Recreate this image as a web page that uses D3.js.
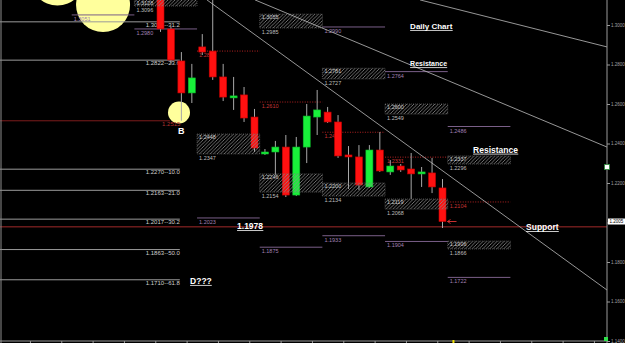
<!DOCTYPE html>
<html><head><meta charset="utf-8">
<script src="https://cdn.jsdelivr.net/npm/d3@7"></script>
<style>html,body{margin:0;padding:0;background:#000;overflow:hidden}svg{display:block}</style>
</head><body><svg id="c" width="625" height="343"></svg>
<script>
// ---------- DATA ----------
const candleIndex = d3.range(28);
const opens  = [1.3150,1.2980,1.2818,1.2656,1.2889,1.2868,1.2737,1.2635,1.2646,1.2534,1.2347,1.2357,1.2382,1.2139,1.2382,1.2534,1.2559,1.2509,1.2342,1.2332,1.2180,1.2367,1.2256,1.2286,1.2271,1.2251,1.2251,1.2175];
const highs  = [1.3200,1.2990,1.2863,1.2803,1.2954,1.3150,1.2803,1.2737,1.2686,1.2575,1.2372,1.2413,1.2443,1.2433,1.2600,1.2671,1.2585,1.2544,1.2387,1.2392,1.2392,1.2458,1.2316,1.2296,1.2352,1.2281,1.2327,1.2220];
const lows   = [1.2965,1.2803,1.2515,1.2605,1.2848,1.2722,1.2615,1.2570,1.2509,1.2357,1.2342,1.2241,1.2129,1.2134,1.2301,1.2443,1.2504,1.2327,1.2170,1.2165,1.2175,1.2256,1.2241,1.2256,1.2119,1.2180,1.2149,1.1972];
const closes = [1.2980,1.2823,1.2656,1.2732,1.2863,1.2737,1.2635,1.2641,1.2529,1.2377,1.2357,1.2382,1.2139,1.2382,1.2539,1.2570,1.2509,1.2337,1.2332,1.2190,1.2367,1.2261,1.2286,1.2266,1.2246,1.2256,1.2180,1.2005];

// weekly periods (start index, 6 candles each)
const weekStarts = [-8.5,-2.5,3.5,9.5,15.5,21.5,27.5];
const weekLen = 6;

// hatched zones
const zoneWeek   = [1,2,3,3,4,4,5,5,6,6];
const zoneTop    = [1.3128,1.2448,1.3055,1.2246,1.2781,1.2200,1.2600,1.2119,1.2337,1.1906];
const zoneBottom = [1.3096,1.2347,1.2985,1.2154,1.2727,1.2134,1.2549,1.2068,1.2296,1.1866];

// purple weekly levels
const levelWeek  = [0,1,2,3,4,4,5,5,6,6];
const levelPrice = [1.3051,1.2980,1.2023,1.1875,1.2990,1.1933,1.2764,1.1904,1.2486,1.1722];

// red dotted pivots
const pivotWeek  = [2,3,4,5,6];
const pivotPrice = [1.2868,1.2610,1.2457,1.2331,1.2104];

// fibonacci levels on the left
const fibPrice = [1.3016,1.2822,1.2270,1.2163,1.2017,1.1863,1.1710];
const fibPct   = ["31.2","23.6","10.0","21.0","30.2","50.0","61.8"];
const fibEnd = 1.85;
const swingLow = 1.2515, swingLowEnd = 0.9;
const supportPrice = 1.1978;

// trend lines [i,p]
const trendFrom = [[4.45,1.3127],[9.05,1.3127],[24.85,1.3127]];
const trendTo   = [[42.75,1.1658],[42.75,1.2382],[42.75,1.2889]];

// highlight circles
const circleIdx   = [-9.87,-5.5,1.77];
const circlePrice = [1.3235,1.3101,1.2557];
const circleR     = [27,27,11];

// annotations
const noteText  = ["Daily Chart","Resistance","Resistance","Support","1.1978","B","D???"];
const noteIdx   = [23.9,23.9,29.93,35.0,7.33,1.68,2.83];
const notePrice = [1.2980,1.2792,1.2354,1.1962,1.1967,1.2448,1.1689];
const noteSize  = [8,7,8.5,8.5,8.5,9,8.5];

const yTicks = d3.range(1.14,1.3001,0.02);

// ---------- SCALES ----------
const W=625,H=343,axisX=607,axisY=341;
const x = d3.scaleLinear().domain([0,27]).range([160.5,442.5]);
const y = d3.scaleLinear().domain([1.14,1.30]).range([341,25]);
const fmt = d3.format('.4f');
const FONT = "Liberation Sans, Arial, sans-serif";

const svg = d3.select('#c').style('background','#000');
svg.append('rect').attr('width',W).attr('height',H).attr('fill','#000');
const defs = svg.append('defs');
const pat = defs.append('pattern').attr('id','hatch').attr('patternUnits','userSpaceOnUse').attr('width',3.5).attr('height',3.5);
pat.append('path').attr('d','M-1,1 l2,-2 M0,3.5 l3.5,-3.5 M2.5,4.5 l2,-2').attr('stroke','#8a8a8a').attr('stroke-width',0.8);
defs.append('clipPath').attr('id','clip').append('rect').attr('x',0).attr('y',0).attr('width',axisX).attr('height',axisY);

const g = svg.append('g').attr('clip-path','url(#clip)');

// circles
g.selectAll('circle.hl').data(circleIdx).join('circle')
  .attr('cx',(d)=>x(d)).attr('cy',(d,i)=>y(circlePrice[i])).attr('r',(d,i)=>circleR[i])
  .attr('fill','#ffff9c');

// fib lines
fibPrice.forEach((p,i)=>{
  g.append('line').attr('x1',0).attr('x2',x(fibEnd)).attr('y1',y(p)).attr('y2',y(p))
    .attr('stroke','#9a9a9a').attr('stroke-width',1);
  g.append('text').attr('x',x(fibEnd)).attr('y',y(p)+5).attr('text-anchor','end')
    .attr('font-family',FONT).attr('font-size',6).attr('fill','#cfcfcf').text(fmt(p)+'--'+fibPct[i]);
});
// swing low red line
g.append('line').attr('x1',0).attr('x2',x(swingLowEnd)).attr('y1',y(swingLow)).attr('y2',y(swingLow))
  .attr('stroke','#7e1c1c').attr('stroke-width',1);
g.append('text').attr('x',x(0.15)).attr('y',y(swingLow)+5).attr('font-family',FONT).attr('font-size',6)
  .attr('fill','#b03030').text(fmt(swingLow));

// support line
g.append('line').attr('x1',0).attr('x2',axisX).attr('y1',y(supportPrice)).attr('y2',y(supportPrice))
  .attr('stroke','#a32a2a').attr('stroke-width',1);

// purple levels
levelPrice.forEach((p,i)=>{
  const ws = weekStarts[levelWeek[i]];
  g.append('line').attr('x1',x(ws)).attr('x2',x(ws+weekLen)).attr('y1',y(p)).attr('y2',y(p))
    .attr('stroke','#7a5f88').attr('stroke-width',1);
  g.append('text').attr('x',x(ws)+2).attr('y',y(p)+6).attr('font-family',FONT).attr('font-size',5.5)
    .attr('fill','#a080b4').text(fmt(p));
});
// red dotted pivots
pivotPrice.forEach((p,i)=>{
  const ws = weekStarts[pivotWeek[i]];
  g.append('line').attr('x1',x(ws)).attr('x2',x(ws+weekLen)).attr('y1',y(p)).attr('y2',y(p))
    .attr('stroke','#b42222').attr('stroke-width',1).attr('stroke-dasharray','1,1.5');
  g.append('text').attr('x',x(ws)+2).attr('y',y(p)+6).attr('font-family',FONT).attr('font-size',5.5)
    .attr('fill','#c83434').text(fmt(p));
});

// candles
candleIndex.forEach(i=>{
  const up = closes[i] >= opens[i];
  const cx = x(i);
  g.append('line').attr('x1',cx).attr('x2',cx).attr('y1',y(highs[i])).attr('y2',y(lows[i]))
    .attr('stroke','#a8a8a8').attr('stroke-width',1);
  const yt = y(Math.max(opens[i],closes[i])), yb = y(Math.min(opens[i],closes[i]));
  g.append('rect').attr('x',cx-3.5).attr('width',7).attr('y',yt).attr('height',Math.max(2,yb-yt))
    .attr('fill',up?'#18f03a':'#ff1010').attr('stroke',up?'#0cb82a':'#c40000').attr('stroke-width',0.6);
});

// hatched zones
zoneTop.forEach((t,i)=>{
  const ws = weekStarts[zoneWeek[i]];
  const b = zoneBottom[i];
  g.append('rect').attr('x',x(ws)).attr('width',x(ws+weekLen)-x(ws)).attr('y',y(t)).attr('height',y(b)-y(t))
    .attr('fill','url(#hatch)').attr('stroke','#777').attr('stroke-width',0.6).attr('stroke-dasharray','1,1');
  g.append('text').attr('x',x(ws)+2).attr('y',Math.max(y(t)+5,5)).attr('font-family',FONT).attr('font-size',5.5)
    .attr('fill','#c8c8c8').text(fmt(t));
  g.append('text').attr('x',x(ws)+2).attr('y',y(b)+6).attr('font-family',FONT).attr('font-size',5.5)
    .attr('fill','#bdbdbd').text(fmt(b));
});

// trend lines
trendFrom.forEach((f,i)=>{
  const t = trendTo[i];
  g.append('line').attr('x1',x(f[0])).attr('y1',y(f[1])).attr('x2',x(t[0])).attr('y2',y(t[1]))
    .attr('stroke','#bdbdbd').attr('stroke-width',0.8);
});

// current price arrow
const lastI = candleIndex[candleIndex.length-1];
const lc = closes[lastI];
g.append('path').attr('d',`M${x(lastI)+14},${y(lc)} L${x(lastI)+5},${y(lc)} M${x(lastI)+8},${y(lc)-2} L${x(lastI)+5},${y(lc)} L${x(lastI)+8},${y(lc)+2}`)
  .attr('stroke','#e03434').attr('fill','none').attr('stroke-width',0.9);

// annotations (bold, underlined)
noteText.forEach((t,i)=>{
  const tx = g.append('text').attr('x',x(noteIdx[i])).attr('y',y(notePrice[i]))
    .attr('font-family',FONT).attr('font-weight','bold').attr('font-size',noteSize[i]).attr('fill','#ffffff').text(t);
  if (t !== 'B') {
    const bb = tx.node().getBBox();
    g.append('line').attr('x1',bb.x).attr('x2',bb.x+bb.width).attr('y1',y(notePrice[i])+1.5).attr('y2',y(notePrice[i])+1.5)
      .attr('stroke','#ffffff').attr('stroke-width',0.8);
  }
});

// frame: left border, right axis, bottom axis
svg.append('line').attr('x1',1).attr('x2',1).attr('y1',0).attr('y2',H).attr('stroke','#8c8c8c');
svg.append('line').attr('x1',axisX).attr('x2',axisX).attr('y1',0).attr('y2',H).attr('stroke','#9a9a9a');
svg.append('line').attr('x1',0).attr('x2',axisX).attr('y1',axisY).attr('y2',axisY).attr('stroke','#9a9a9a');

const ra = svg.append('g').attr('transform',`translate(${axisX},0)`)
  .call(d3.axisRight(y).tickValues(yTicks).tickSize(3).tickFormat(fmt));
ra.select('.domain').remove();
ra.selectAll('line').attr('stroke','#9a9a9a');
ra.selectAll('text').attr('font-family',FONT).attr('font-size',4.5).attr('fill','#a0a0a0').attr('x',4);

const bTicks = d3.range(-15.5,43,3);
const ba = svg.append('g').attr('transform',`translate(0,${axisY})`)
  .call(d3.axisBottom(x).tickValues(bTicks).tickSize(2).tickFormat(''));
ba.select('.domain').remove();
ba.selectAll('line').attr('stroke','#9a9a9a');

// current price box
const pb = svg.append('g');
pb.append('rect').attr('x',axisX+1).attr('y',y(lc)-3).attr('width',17).attr('height',6).attr('fill','#ffffff');
pb.append('text').attr('x',axisX+2.5).attr('y',y(lc)+1.8).attr('font-family',FONT).attr('font-size',4.5).attr('fill','#000').text(fmt(lc));

// small markers
svg.append('rect').attr('x',x(28)-0.5).attr('y',axisY-1).attr('width',2).attr('height',3).attr('fill','#f0e000');
svg.append('rect').attr('x',axisX-3).attr('y',axisY-4).attr('width',4).attr('height',4).attr('fill','#2ee04a');
svg.append('rect').attr('x',axisX-2.5).attr('y',y(1.2281)-2.5).attr('width',5).attr('height',5).attr('fill','#fff').attr('stroke','#2c8a3a').attr('stroke-width',0.8);
</script></body></html>
